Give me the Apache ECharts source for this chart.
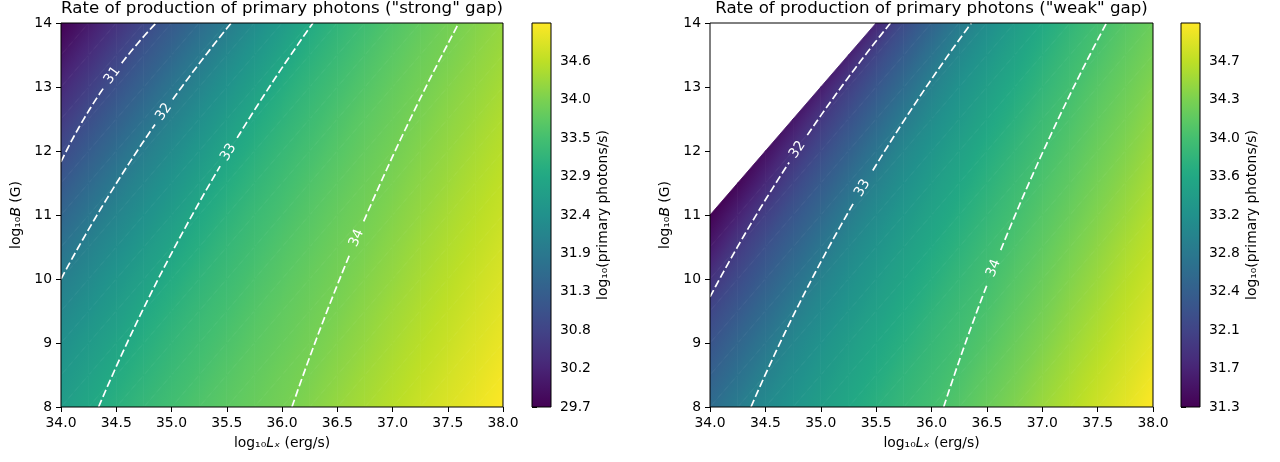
<!DOCTYPE html>
<html><head><meta charset="utf-8">
<script src="https://cdn.jsdelivr.net/npm/echarts@6/dist/echarts.min.js"></script>
<style>html,body{margin:0;padding:0;background:#fff}#c{width:1280px;height:462px}</style>
</head><body><div id="c"></div>
<script>
// ---- grid nodes ----
const lxNodes = [34.0, 34.25, 34.5, 34.75, 35.0, 35.25, 35.5, 35.75, 36.0, 36.25, 36.5, 36.75, 37.0, 37.25, 37.5, 37.75, 38.0];
const bNodes = [8, 8.5, 9, 9.5, 10, 10.5, 11, 11.5, 12, 12.5, 13, 13.5, 14];

// ---- "strong" gap: log10 rate at nodes, one array per B row ----
const sB8    = [32.69, 32.92, 33.12, 33.29, 33.45, 33.60, 33.73, 33.85, 33.96, 34.09, 34.24, 34.38, 34.52, 34.67, 34.81, 34.95, 35.10];
const sB8_5  = [32.53, 32.77, 33.00, 33.18, 33.35, 33.51, 33.66, 33.79, 33.91, 34.02, 34.16, 34.31, 34.45, 34.59, 34.74, 34.88, 35.03];
const sB9    = [32.37, 32.61, 32.84, 33.07, 33.25, 33.42, 33.57, 33.72, 33.84, 33.96, 34.09, 34.23, 34.38, 34.52, 34.66, 34.81, 34.95];
const sB9_5  = [32.19, 32.43, 32.68, 32.93, 33.14, 33.32, 33.48, 33.64, 33.78, 33.90, 34.02, 34.16, 34.31, 34.45, 34.59, 34.74, 34.88];
const sB10   = [32.00, 32.25, 32.51, 32.76, 33.01, 33.21, 33.38, 33.55, 33.70, 33.84, 33.96, 34.09, 34.23, 34.38, 34.52, 34.67, 34.81];
const sB10_5 = [31.73, 32.06, 32.32, 32.58, 32.85, 33.08, 33.28, 33.45, 33.62, 33.76, 33.90, 34.02, 34.16, 34.31, 34.45, 34.59, 34.74];
const sB11   = [31.45, 31.81, 32.12, 32.39, 32.66, 32.94, 33.16, 33.35, 33.52, 33.68, 33.83, 33.96, 34.09, 34.23, 34.38, 34.52, 34.66];
const sB11_5 = [31.18, 31.54, 31.89, 32.19, 32.47, 32.75, 33.02, 33.23, 33.42, 33.59, 33.75, 33.89, 34.02, 34.16, 34.30, 34.45, 34.59];
const sB12   = [30.90, 31.26, 31.62, 31.97, 32.27, 32.56, 32.85, 33.10, 33.31, 33.49, 33.66, 33.82, 33.95, 34.09, 34.23, 34.38, 34.52];
const sB12_5 = [30.60, 30.98, 31.34, 31.69, 32.05, 32.35, 32.65, 32.95, 33.18, 33.38, 33.57, 33.74, 33.88, 34.02, 34.16, 34.30, 34.45];
const sB13   = [30.30, 30.68, 31.05, 31.41, 31.78, 32.12, 32.43, 32.74, 33.04, 33.26, 33.46, 33.64, 33.81, 33.95, 34.09, 34.23, 34.37];
const sB13_5 = [30.00, 30.38, 30.76, 31.13, 31.49, 31.86, 32.20, 32.52, 32.85, 33.12, 33.34, 33.54, 33.72, 33.88, 34.01, 34.16, 34.30];
const sB14   = [29.70, 30.08, 30.46, 30.83, 31.21, 31.57, 31.94, 32.28, 32.62, 32.96, 33.21, 33.42, 33.62, 33.79, 33.95, 34.09, 34.23];

// ---- "weak" gap (null = no gap, left blank) ----
const wB8    = [32.64, 32.88, 33.09, 33.26, 33.42, 33.57, 33.71, 33.83, 33.95, 34.08, 34.23, 34.37, 34.52, 34.66, 34.81, 34.95, 35.10];
const wB8_5  = [32.46, 32.71, 32.96, 33.15, 33.32, 33.48, 33.63, 33.77, 33.89, 34.01, 34.16, 34.30, 34.45, 34.59, 34.74, 34.88, 35.03];
const wB9    = [32.28, 32.54, 32.79, 33.04, 33.22, 33.39, 33.55, 33.69, 33.83, 33.95, 34.08, 34.23, 34.37, 34.52, 34.66, 34.81, 34.95];
const wB9_5  = [32.09, 32.35, 32.61, 32.88, 33.10, 33.28, 33.45, 33.61, 33.76, 33.89, 34.01, 34.16, 34.30, 34.45, 34.59, 34.74, 34.88];
const wB10   = [31.84, 32.15, 32.42, 32.69, 32.96, 33.17, 33.35, 33.52, 33.68, 33.82, 33.95, 34.09, 34.23, 34.38, 34.52, 34.67, 34.81];
const wB10_5 = [31.56, 31.93, 32.23, 32.50, 32.78, 33.04, 33.24, 33.42, 33.59, 33.74, 33.89, 34.02, 34.16, 34.31, 34.45, 34.60, 34.74];
const wB11   = [31.30, 31.66, 32.01, 32.30, 32.58, 32.87, 33.11, 33.31, 33.49, 33.66, 33.81, 33.95, 34.09, 34.23, 34.38, 34.52, 34.67];
const wB11_5 = [null, 31.36, 31.73, 32.08, 32.38, 32.67, 32.96, 33.18, 33.38, 33.56, 33.73, 33.88, 34.02, 34.16, 34.31, 34.45, 34.60];
const wB12   = [null, null, 31.46, 31.83, 32.16, 32.46, 32.76, 33.05, 33.26, 33.46, 33.64, 33.80, 33.95, 34.09, 34.24, 34.38, 34.53];
const wB12_5 = [null, null, null, 31.53, 31.91, 32.24, 32.55, 32.86, 33.12, 33.34, 33.53, 33.71, 33.88, 34.02, 34.17, 34.31, 34.46];
const wB13   = [null, null, null, null, 31.59, 32.00, 32.32, 32.64, 32.96, 33.21, 33.42, 33.61, 33.79, 33.95, 34.10, 34.24, 34.39];
const wB13_5 = [null, null, null, null, null, 31.64, 32.08, 32.41, 32.74, 33.06, 33.29, 33.50, 33.70, 33.87, 34.02, 34.17, 34.31];
const wB14   = [null, null, null, null, null, null, 31.70, 32.16, 32.51, 32.85, 33.14, 33.37, 33.59, 33.78, 33.95, 34.10, 34.24];

// ---- contour lines [Lx, B]; middle point = label position ----
const strongC31 = [[34.0, 11.83], [34.465, 13.18], [34.86, 14.0]];
const strongC32 = [[34.0, 10.0], [34.93, 12.61], [35.54, 14.0]];
const strongC33 = [[34.34, 8.0], [35.515, 11.98], [36.28, 14.0]];
const strongC34 = [[36.09, 8.0], [36.675, 10.64], [37.60, 14.0]];
const strongLevels = ['31', '32', '33', '34'];
const weakC32 = [[34.0, 9.72], [34.79, 12.02], [35.63, 14.0]];
const weakC33 = [[34.37, 8.0], [35.375, 11.42], [36.36, 14.0]];
const weakC34 = [[36.11, 8.0], [36.56, 10.17], [37.58, 14.0]];
const weakLevels = ['32', '33', '34'];

// ---- colour ranges and colourbar ticks ----
const strongRange = [29.7, 35.1];
const weakRange = [31.3, 35.1];
const strongCbTicks = [29.70, 30.24, 30.78, 31.32, 31.86, 32.40, 32.94, 33.48, 34.02, 34.56];
const weakCbTicks = [31.30, 31.68, 32.06, 32.44, 32.82, 33.20, 33.58, 33.96, 34.34, 34.72];

const strongGrid = [sB8, sB8_5, sB9, sB9_5, sB10, sB10_5, sB11, sB11_5, sB12, sB12_5, sB13, sB13_5, sB14];
const weakGrid = [wB8, wB8_5, wB9, wB9_5, wB10, wB10_5, wB11, wB11_5, wB12, wB12_5, wB13, wB13_5, wB14];

// viridis
const VIR = [[0,'#440154'],[0.1,'#482475'],[0.125,'#472d7b'],[0.2,'#414487'],[0.25,'#3b528b'],[0.3,'#355f8d'],
  [0.375,'#2c728e'],[0.4,'#2a788e'],[0.5,'#21918c'],[0.6,'#22a884'],[0.625,'#28ae80'],[0.7,'#44bf70'],
  [0.75,'#5ec962'],[0.8,'#7ad151'],[0.875,'#addc30'],[0.9,'#bddf26'],[1,'#fde725']];
const VIR_RGB = VIR.map(([o,h]) => [o, parseInt(h.slice(1,3),16), parseInt(h.slice(3,5),16), parseInt(h.slice(5,7),16)]);
function vir(t) {
  t = Math.max(0, Math.min(1, t));
  for (let k = 1; k < VIR_RGB.length; k++) {
    const a = VIR_RGB[k-1], b = VIR_RGB[k];
    if (t <= b[0]) {
      const f = (t - a[0]) / (b[0] - a[0]);
      return 'rgb(' + Math.round(a[1] + f*(b[1]-a[1])) + ',' + Math.round(a[2] + f*(b[2]-a[2])) + ',' + Math.round(a[3] + f*(b[3]-a[3])) + ')';
    }
  }
  return VIR[VIR.length-1][1];
}

function triFill(pts, vals, vmin, vmax) {
  const [p0, p1, p2] = pts, [a0, a1, a2] = vals;
  const e1x = p1[0]-p0[0], e1y = p1[1]-p0[1], e2x = p2[0]-p0[0], e2y = p2[1]-p0[1];
  const d1 = a1-a0, d2 = a2-a0;
  const det = e1x*e2y - e1y*e2x;
  const norm = v => (v - vmin) / (vmax - vmin);
  if (Math.abs(det) < 1e-9) return vir(norm(a0));
  const gx = (d1*e2y - d2*e1y) / det, gy = (e1x*d2 - e2x*d1) / det;
  const g2 = gx*gx + gy*gy;
  const lo = Math.min(a0,a1,a2), hi = Math.max(a0,a1,a2);
  if (g2 < 1e-12 || hi - lo < 1e-6) return vir(norm(a0));
  const sx = p0[0] + (lo-a0)*gx/g2, sy = p0[1] + (lo-a0)*gy/g2;
  const ex = p0[0] + (hi-a0)*gx/g2, ey = p0[1] + (hi-a0)*gy/g2;
  const stops = [0, 1/3, 2/3, 1].map(f => ({offset: f, color: vir(norm(lo + f*(hi-lo)))}));
  return new echarts.graphic.LinearGradient(sx, sy, ex, ey, stops, true);
}

function heatSeries(grid, range, idx) {
  const cells = [];
  for (let j = 0; j < bNodes.length-1; j++)
    for (let i = 0; i < lxNodes.length-1; i++) cells.push([lxNodes[i], bNodes[j], i, j]);
  return {
    type: 'custom', xAxisIndex: idx, yAxisIndex: idx, clip: true, silent: true,
    encode: {x: 0, y: 1}, data: cells,
    renderItem: function (params, api) {
      const i = api.value(2), j = api.value(3);
      const tris = [[[i,j],[i+1,j],[i+1,j+1]], [[i,j],[i+1,j+1],[i,j+1]]];
      const children = [];
      for (const t of tris) {
        const vals = t.map(n => grid[n[1]][n[0]]);
        if (vals.some(v => v == null)) continue;
        const pts = t.map(n => api.coord([lxNodes[n[0]], bNodes[n[1]]]));
        const f = triFill(pts, vals, range[0], range[1]);
        children.push({type: 'polygon', shape: {points: pts}, style: {fill: f, stroke: f, lineWidth: 0.8}});
      }
      return {type: 'group', children: children};
    }
  };
}

// path through the read points, with a gap at the label
function contourSeries(lines, levels, idx) {
  return {
    type: 'custom', xAxisIndex: idx, yAxisIndex: idx, clip: true, silent: true, z: 5,
    encode: {x: 0, y: 1}, data: lines.map((l, k) => [l[1][0], l[1][1], k]),
    renderItem: function (params, api) {
      const k = api.value(2);
      const [P0, P1, P2] = lines[k].map(p => api.coord(p));
      const l1 = Math.hypot(P1[0]-P0[0], P1[1]-P0[1]), l2 = Math.hypot(P2[0]-P1[0], P2[1]-P1[1]);
      const tm = l1 / (l1 + l2);
      const C = [0, 1].map(d => (P1[d] - (1-tm)*(1-tm)*P0[d] - tm*tm*P2[d]) / (2*tm*(1-tm)));
      const Bz = t => [0, 1].map(d => (1-t)*(1-t)*P0[d] + 2*(1-t)*t*C[d] + t*t*P2[d]);
      const g = 15, N = 80;
      const partA = [], partB = [];
      for (let s = 0; s <= N; s++) {
        const t = s / N, p = Bz(t);
        if (Math.hypot(p[0]-P1[0], p[1]-P1[1]) < g) continue;
        (t < tm ? partA : partB).push(p);
      }
      const tx = 2*(1-tm)*(C[0]-P0[0]) + 2*tm*(P2[0]-C[0]);
      const ty = 2*(1-tm)*(C[1]-P0[1]) + 2*tm*(P2[1]-C[1]);
      const ang = Math.atan2(-ty, tx);
      const ls = {stroke: '#fff', lineWidth: 1.7, lineDash: [7.7, 3.3], fill: null};
      return {type: 'group', children: [
        {type: 'polyline', shape: {points: partA}, style: ls},
        {type: 'polyline', shape: {points: partB}, style: ls},
        {type: 'text', x: P1[0], y: P1[1], rotation: ang,
          style: {text: levels[k], fill: '#fff', font: '13.9px "DejaVu Sans"', align: 'center', verticalAlign: 'middle'}}
      ]};
    }
  };
}

function cbSeries(range, idx) {
  return {
    type: 'custom', xAxisIndex: idx, yAxisIndex: idx, silent: true,
    encode: {x: [0, 2], y: [1, 3]}, data: [[0, range[0], 1, range[1]]],
    renderItem: function (params, api) {
      const a = api.coord([0, range[1]]), b = api.coord([1, range[0]]);
      return {type: 'rect', shape: {x: a[0], y: a[1], width: b[0]-a[0], height: b[1]-a[1]},
        style: {fill: new echarts.graphic.LinearGradient(0, 1, 0, 0, VIR.map(s => ({offset: s[0], color: s[1]})))}};
    }
  };
}

const FONT = 'DejaVu Sans';
const rich = {
  r: {fontFamily: FONT, fontSize: 13.9, color: '#000'},
  i: {fontFamily: FONT, fontSize: 13.9, color: '#000', fontStyle: 'italic'}
};
const tickStyle = {show: true, length: 5, lineStyle: {color: '#000', width: 1}};
const labelStyle = {color: '#000', fontFamily: FONT, fontSize: 13.9};

function plotAxes(idx) {
  return {
    x: {gridIndex: idx, type: 'value', min: 34, max: 38, interval: 0.5,
      axisLine: {show: false, onZero: false}, axisTick: tickStyle, splitLine: {show: false},
      axisLabel: Object.assign({margin: 9, formatter: v => v.toFixed(1)}, labelStyle),
      name: '{r|log₁₀}{i|Lₓ}{r| (erg/s)}', nameLocation: 'middle', nameGap: 29,
      nameTextStyle: {rich: rich}},
    y: {gridIndex: idx, type: 'value', min: 8, max: 14, interval: 1,
      axisLine: {show: false, onZero: false}, axisTick: tickStyle, splitLine: {show: false},
      axisLabel: Object.assign({margin: 9}, labelStyle),
      name: '{r|log₁₀}{i|B}{r| (G)}', nameLocation: 'middle', nameGap: 38, nameRotate: 90,
      nameTextStyle: {rich: rich}}
  };
}
function cbAxes(idx, range, ticks) {
  return {
    x: {gridIndex: idx, type: 'value', min: 0, max: 1, show: false},
    y: {gridIndex: idx, type: 'value', position: 'right', min: range[0], max: range[1],
      axisLine: {show: false}, splitLine: {show: false},
      axisTick: Object.assign({customValues: ticks}, tickStyle),
      axisLabel: Object.assign({margin: 9, customValues: ticks, formatter: v => v.toFixed(1)}, labelStyle),
      name: 'log₁₀(primary photons/s)', nameLocation: 'middle', nameGap: 45, nameRotate: 90,
      nameTextStyle: {fontFamily: FONT, fontSize: 13.9, color: '#000'}}
  };
}

const a0 = plotAxes(0), a1 = cbAxes(1, strongRange, strongCbTicks), a2 = plotAxes(2), a3 = cbAxes(3, weakRange, weakCbTicks);
const gridBase = {show: true, z: 10, backgroundColor: 'transparent', borderColor: '#000', borderWidth: 1};
const titleStyle = {fontFamily: FONT, fontSize: 16.67, fontWeight: 'normal', color: '#000'};

const option = {
  animation: false,
  backgroundColor: '#fff',
  title: [
    {text: 'Rate of production of primary photons ("strong" gap)', left: 282, top: 0, textAlign: 'center', padding: 0, textStyle: titleStyle},
    {text: 'Rate of production of primary photons ("weak" gap)', left: 931.5, top: 0, textAlign: 'center', padding: 0, textStyle: titleStyle}
  ],
  grid: [
    Object.assign({left: 61, top: 23, width: 442, height: 384}, gridBase),
    Object.assign({left: 532, top: 23, width: 19, height: 384}, gridBase),
    Object.assign({left: 710, top: 23, width: 443, height: 384}, gridBase),
    Object.assign({left: 1181, top: 23, width: 19, height: 384}, gridBase)
  ],
  xAxis: [a0.x, a1.x, a2.x, a3.x],
  yAxis: [a0.y, a1.y, a2.y, a3.y],
  series: [
    heatSeries(strongGrid, strongRange, 0),
    contourSeries([strongC31, strongC32, strongC33, strongC34], strongLevels, 0),
    cbSeries(strongRange, 1),
    heatSeries(weakGrid, weakRange, 2),
    contourSeries([weakC32, weakC33, weakC34], weakLevels, 2),
    cbSeries(weakRange, 3)
  ]
};
const chart = echarts.init(document.getElementById('c'), null, {renderer: 'canvas'});
chart.setOption(option);
</script>
</body></html>
